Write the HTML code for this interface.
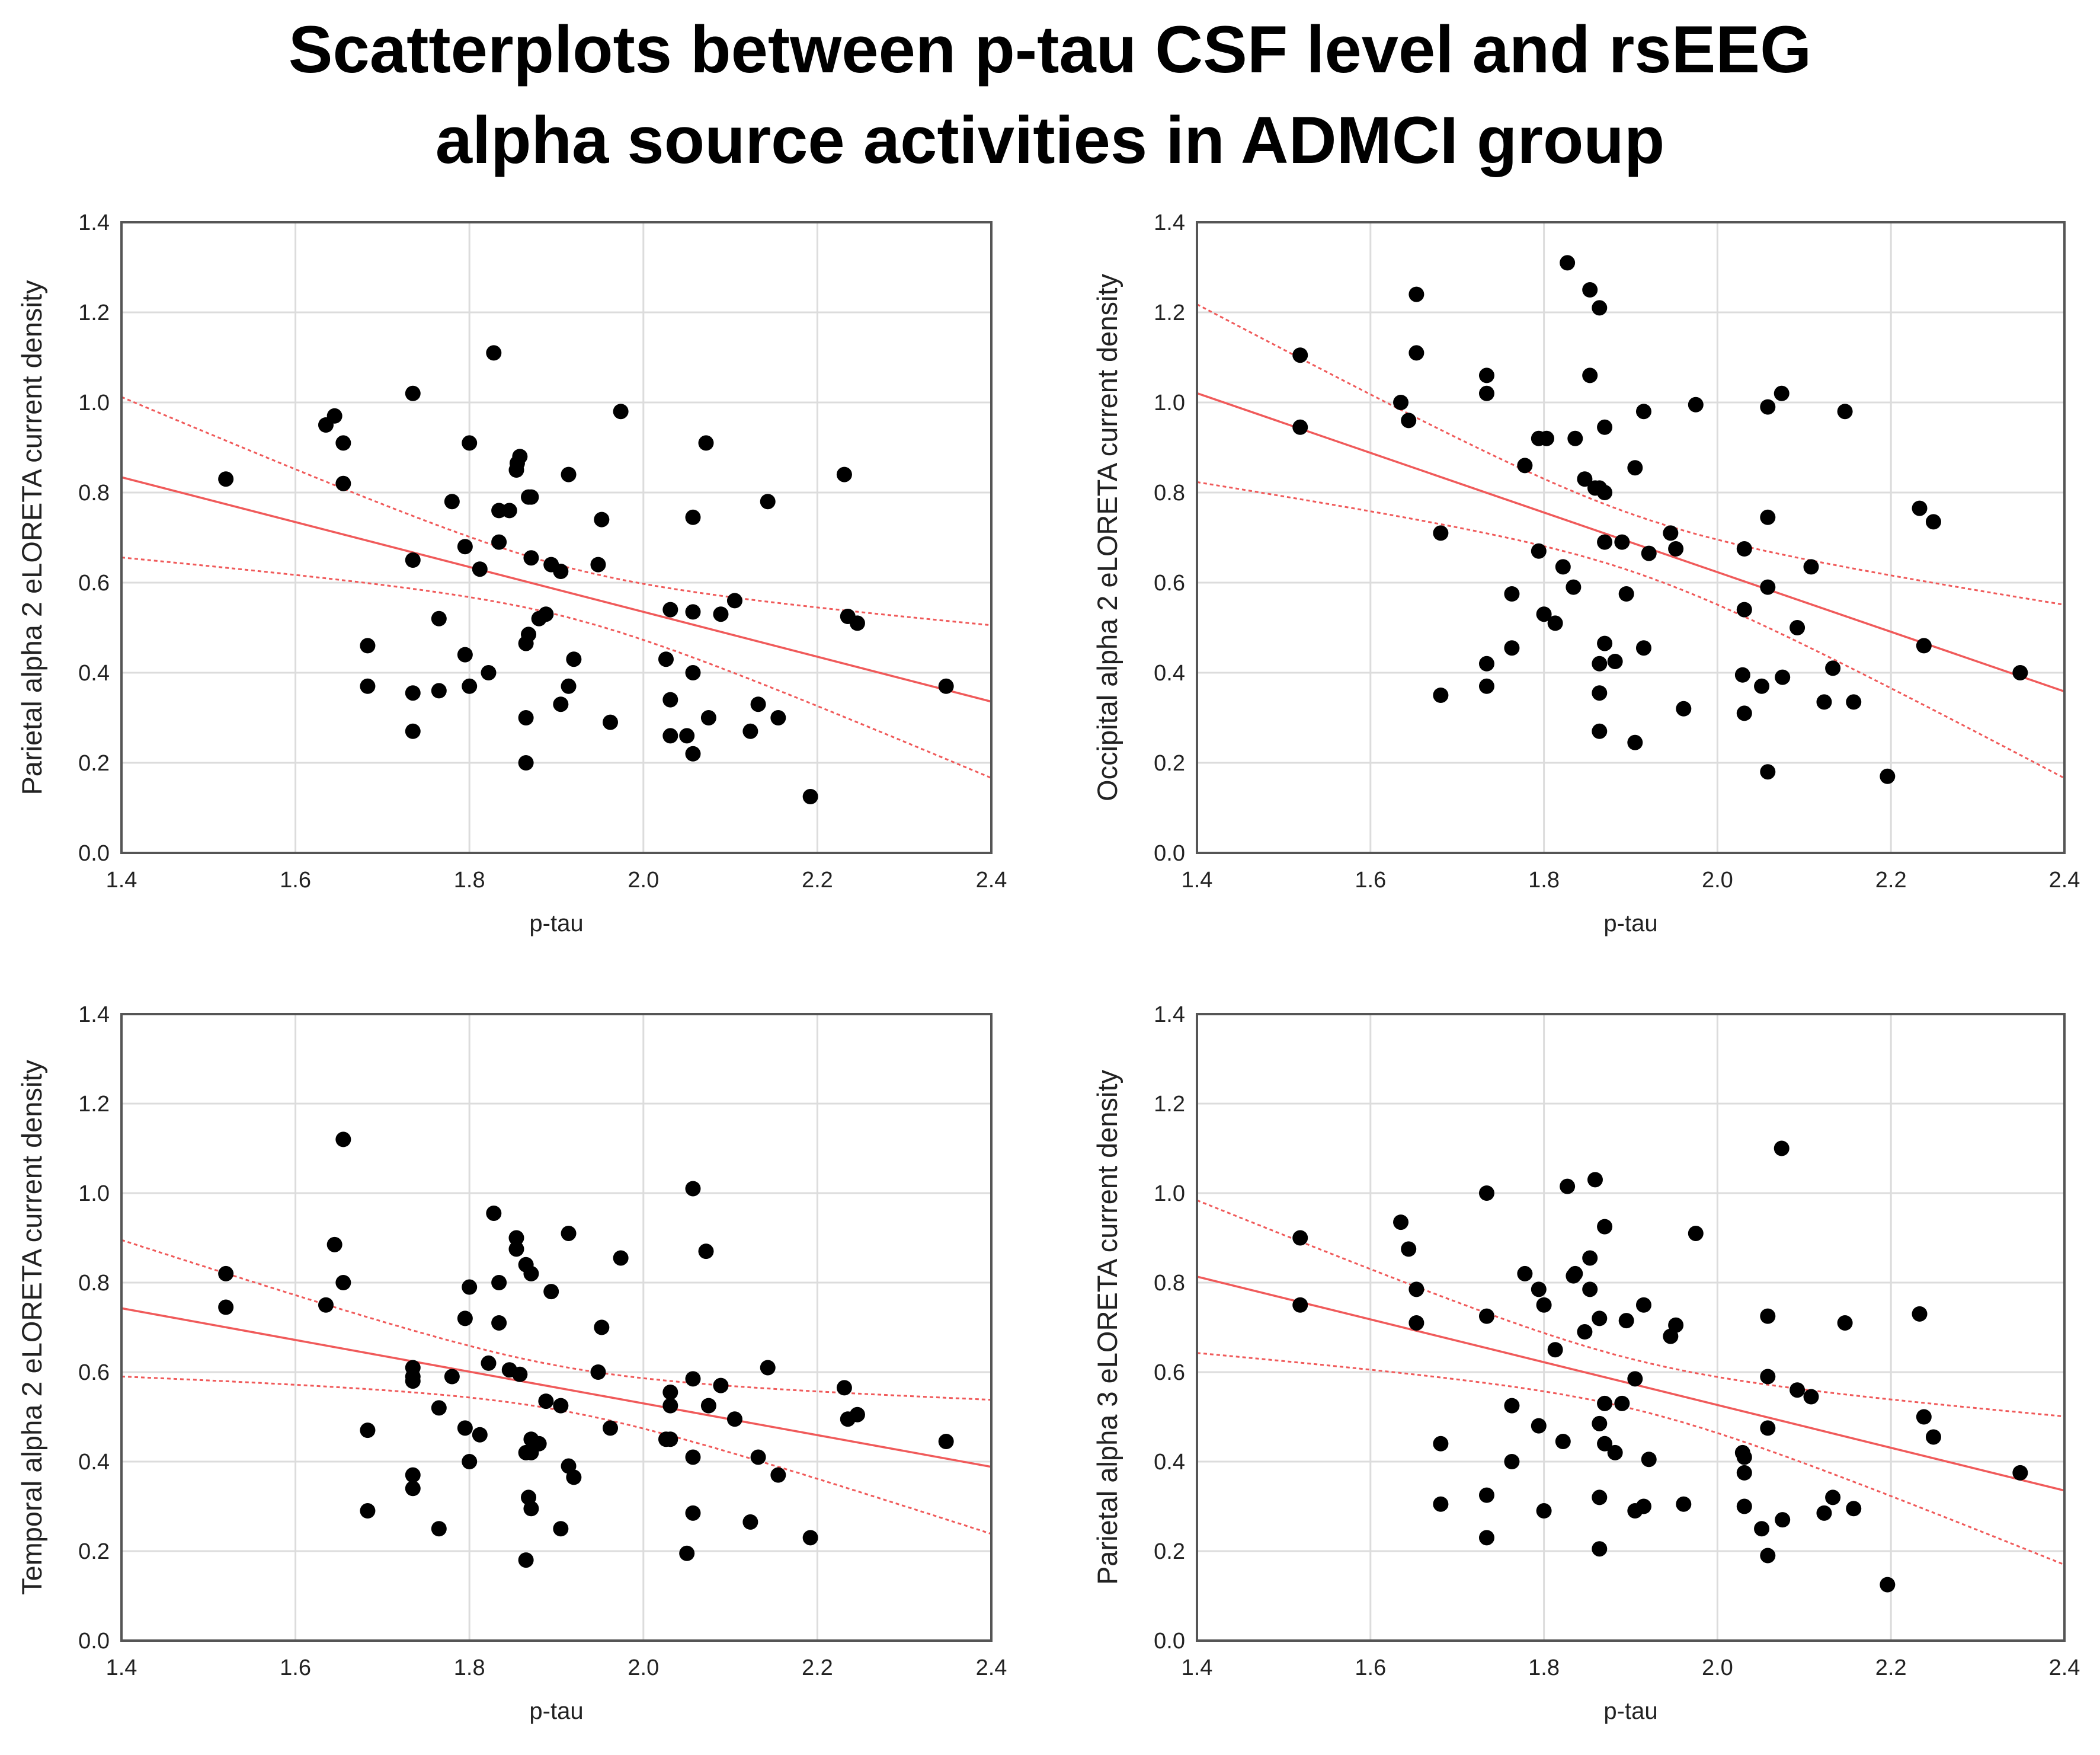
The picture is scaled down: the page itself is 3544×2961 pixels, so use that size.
<!DOCTYPE html>
<html><head><meta charset="utf-8"><style>
html,body{margin:0;padding:0;background:#fff;}
svg{display:block;}
</style></head><body>
<svg id="chart" width="3544" height="2961" viewBox="0 0 3544 2961" xmlns="http://www.w3.org/2000/svg" font-family="'Liberation Sans', Arial, sans-serif">
<text x="1772" y="122" text-anchor="middle" font-size="112" font-weight="bold" fill="#000">Scatterplots between p-tau CSF level and rsEEG</text>
<text x="1772" y="275" text-anchor="middle" font-size="112" font-weight="bold" fill="#000">alpha source activities in ADMCI group</text>
</svg>
<script>
const ptau1 = [1.52,1.635,1.645,1.655,1.655,1.683,1.683,1.735,1.735,1.735,1.735,1.765,1.765,1.78,1.795,1.795,1.80,1.80,1.812,1.822,1.828,1.834,1.834,1.846,1.854,1.855,1.858,1.865,1.865,1.865,1.868,1.868,1.871,1.871,1.88,1.888,1.894,1.905,1.905,1.914,1.914,1.92,1.948,1.952,1.962,1.974,2.026,2.031,2.031,2.031,2.05,2.057,2.057,2.057,2.057,2.072,2.075,2.089,2.105,2.123,2.132,2.143,2.155,2.192,2.231,2.235,2.246,2.348];
const parAlpha2 = [0.83,0.95,0.97,0.91,0.82,0.46,0.37,1.02,0.65,0.355,0.27,0.52,0.36,0.78,0.68,0.44,0.91,0.37,0.63,0.40,1.11,0.69,0.76,0.76,0.85,0.865,0.88,0.30,0.20,0.465,0.485,0.79,0.79,0.655,0.52,0.53,0.64,0.625,0.33,0.37,0.84,0.43,0.64,0.74,0.29,0.98,0.43,0.54,0.34,0.26,0.26,0.535,0.40,0.22,0.745,0.91,0.30,0.53,0.56,0.27,0.33,0.78,0.30,0.125,0.84,0.525,0.51,0.37];
const ptau2 = [1.519,1.519,1.635,1.644,1.653,1.653,1.681,1.681,1.734,1.734,1.734,1.734,1.763,1.763,1.778,1.794,1.794,1.80,1.803,1.813,1.822,1.827,1.834,1.836,1.847,1.853,1.853,1.859,1.864,1.864,1.864,1.864,1.864,1.870,1.870,1.870,1.870,1.882,1.890,1.895,1.905,1.905,1.915,1.915,1.921,1.946,1.952,1.961,1.975,2.029,2.031,2.031,2.031,2.051,2.058,2.058,2.058,2.058,2.074,2.075,2.092,2.108,2.123,2.133,2.147,2.157,2.196,2.233,2.238,2.249,2.349];
const occAlpha2 = [1.105,0.945,1.00,0.96,1.24,1.11,0.71,0.35,1.06,1.02,0.42,0.37,0.575,0.455,0.86,0.67,0.92,0.53,0.92,0.51,0.635,1.31,0.59,0.92,0.83,1.25,1.06,0.81,1.21,0.81,0.42,0.355,0.27,0.945,0.80,0.69,0.465,0.425,0.69,0.575,0.855,0.245,0.98,0.455,0.665,0.71,0.675,0.32,0.995,0.395,0.675,0.31,0.54,0.37,0.99,0.745,0.59,0.18,1.02,0.39,0.50,0.635,0.335,0.41,0.98,0.335,0.17,0.765,0.46,0.735,0.40];
const ptau3 = [1.52,1.52,1.635,1.645,1.655,1.655,1.683,1.683,1.735,1.735,1.735,1.735,1.735,1.765,1.765,1.78,1.795,1.795,1.80,1.80,1.812,1.822,1.828,1.834,1.834,1.846,1.854,1.854,1.858,1.865,1.865,1.865,1.868,1.871,1.871,1.871,1.88,1.871,1.888,1.894,1.905,1.905,1.914,1.914,1.92,1.948,1.952,1.962,1.974,2.026,2.031,2.031,2.031,2.05,2.057,2.057,2.057,2.057,2.072,2.075,2.089,2.105,2.123,2.132,2.143,2.155,2.192,2.231,2.235,2.246,2.348];
const tempAlpha2 = [0.82,0.745,0.75,0.885,0.80,1.12,0.47,0.29,0.61,0.59,0.58,0.37,0.34,0.52,0.25,0.59,0.72,0.475,0.79,0.40,0.46,0.62,0.955,0.71,0.80,0.605,0.90,0.875,0.595,0.84,0.18,0.42,0.32,0.82,0.45,0.295,0.44,0.42,0.535,0.78,0.525,0.25,0.91,0.39,0.365,0.60,0.70,0.475,0.855,0.45,0.555,0.525,0.45,0.195,1.01,0.585,0.41,0.285,0.87,0.525,0.57,0.495,0.265,0.41,0.61,0.37,0.23,0.565,0.495,0.505,0.445];
const ptau4 = [1.519,1.519,1.635,1.644,1.653,1.653,1.681,1.681,1.734,1.734,1.734,1.734,1.763,1.763,1.778,1.794,1.794,1.80,1.80,1.813,1.822,1.827,1.834,1.836,1.847,1.853,1.853,1.859,1.864,1.864,1.864,1.864,1.870,1.870,1.870,1.882,1.890,1.895,1.905,1.905,1.915,1.915,1.921,1.946,1.952,1.961,1.975,2.029,2.031,2.031,2.031,2.051,2.058,2.058,2.058,2.058,2.074,2.075,2.092,2.108,2.123,2.133,2.147,2.157,2.196,2.233,2.238,2.249,2.349];
const parAlpha3 = [0.90,0.75,0.935,0.875,0.785,0.71,0.44,0.305,1.00,0.725,0.325,0.23,0.525,0.40,0.82,0.785,0.48,0.75,0.29,0.65,0.445,1.015,0.815,0.82,0.69,0.855,0.785,1.03,0.72,0.485,0.32,0.205,0.925,0.53,0.44,0.42,0.53,0.715,0.585,0.29,0.75,0.30,0.405,0.68,0.705,0.305,0.91,0.42,0.41,0.375,0.30,0.25,0.725,0.59,0.475,0.19,1.10,0.27,0.56,0.545,0.285,0.32,0.71,0.295,0.125,0.73,0.50,0.455,0.375];
const xTicks = [1.4,1.6,1.8,2.0,2.2,2.4];
const yTicks = [0.0,0.2,0.4,0.6,0.8,1.0,1.2,1.4];
const yTitles = ["Parietal alpha 2 eLORETA current density","Occipital alpha 2 eLORETA current density","Temporal alpha 2 eLORETA current density","Parietal alpha 3 eLORETA current density"];

const NS="http://www.w3.org/2000/svg";
const svg=document.getElementById('chart');
function mk(tag,attrs,parent){const e=document.createElementNS(NS,tag);for(const k in attrs)e.setAttribute(k,attrs[k]);(parent||svg).appendChild(e);return e;}

const panels=[
 {x0:205,x1:1673,y0:375,y1:1439,xs:ptau1,ys:parAlpha2,t:yTitles[0],name:'parietal-alpha2'},
 {x0:2020,x1:3484,y0:375,y1:1439,xs:ptau2,ys:occAlpha2,t:yTitles[1],name:'occipital-alpha2'},
 {x0:205,x1:1673,y0:1711,y1:2768,xs:ptau3,ys:tempAlpha2,t:yTitles[2],name:'temporal-alpha2'},
 {x0:2020,x1:3484,y0:1711,y1:2768,xs:ptau4,ys:parAlpha3,t:yTitles[3],name:'parietal-alpha3'}
];

panels.forEach(p=>{
  const g=mk('g',{});
  
  
  const sx=v=>p.x0+(v-1.4)/(2.4-1.4)*(p.x1-p.x0);
  const sy=v=>p.y1-(v-0)/(1.4-0)*(p.y1-p.y0);
  xTicks.forEach(t=>{
    const l=mk('line',{x1:sx(t),x2:sx(t),y1:p.y0,y2:p.y1,stroke:'#dcdcdc','stroke-width':3},g);
    
    
    const tx=mk('text',{x:sx(t),y:p.y1+58,'text-anchor':'middle','font-size':38,fill:'#222'},g);
    
    
    tx.textContent=t.toFixed(1);
  });
  yTicks.forEach(t=>{
    const l=mk('line',{x1:p.x0,x2:p.x1,y1:sy(t),y2:sy(t),stroke:'#dcdcdc','stroke-width':3},g);
    
    
    const tx=mk('text',{x:p.x0-20,y:sy(t)+13,'text-anchor':'end','font-size':38,fill:'#222'},g);
    
    
    tx.textContent=t.toFixed(1);
  });
  const n=p.xs.length;
  const mx=p.xs.reduce((a,b)=>a+b,0)/n, my=p.ys.reduce((a,b)=>a+b,0)/n;
  let sxx=0,sxy=0;for(let i=0;i<n;i++){sxx+=(p.xs[i]-mx)**2;sxy+=(p.xs[i]-mx)*(p.ys[i]-my);}
  const b=sxy/sxx,a=my-b*mx;
  let sse=0;for(let i=0;i<n;i++){sse+=(p.ys[i]-a-b*p.xs[i])**2;}
  const s=Math.sqrt(sse/(n-2)), tc=2.0;
  const up=[],lo=[];
  for(let k=0;k<=50;k++){const xv=1.4+k/50;const yh=a+b*xv;const se=s*Math.sqrt(1/n+(xv-mx)**2/sxx);
    up.push(sx(xv)+','+sy(yh+tc*se));lo.push(sx(xv)+','+sy(yh-tc*se));}
  const rl=mk('line',{x1:sx(1.4),y1:sy(a+b*1.4),x2:sx(2.4),y2:sy(a+b*2.4),stroke:'#f05a5a','stroke-width':3.5},g);
  
  
  const cu=mk('polyline',{points:up.join(' '),fill:'none',stroke:'#f05a5a','stroke-width':3,'stroke-dasharray':'6 5'},g);
  
  
  const cl=mk('polyline',{points:lo.join(' '),fill:'none',stroke:'#f05a5a','stroke-width':3,'stroke-dasharray':'6 5'},g);
  
  
  for(let i=0;i<n;i++){
    const c=mk('circle',{cx:sx(p.xs[i]),cy:sy(p.ys[i]),r:13,fill:'#000'},g);
    
    
  }
  const fr=mk('rect',{x:p.x0,y:p.y0,width:p.x1-p.x0,height:p.y1-p.y0,fill:'none',stroke:'#555','stroke-width':4},g);
  
  
  const xt=mk('text',{x:(p.x0+p.x1)/2,y:p.y1+132,'text-anchor':'middle','font-size':40,fill:'#222'},g);
  
  
  xt.textContent='p-tau';
  const cy=(p.y0+p.y1)/2, cx=p.x0-135;
  const yt=mk('text',{x:cx,y:cy,'text-anchor':'middle','font-size':47,fill:'#222',transform:'rotate(-90 '+cx+' '+cy+')'},g);
  
  
  yt.textContent=p.t;
});
</script>
</body></html>
